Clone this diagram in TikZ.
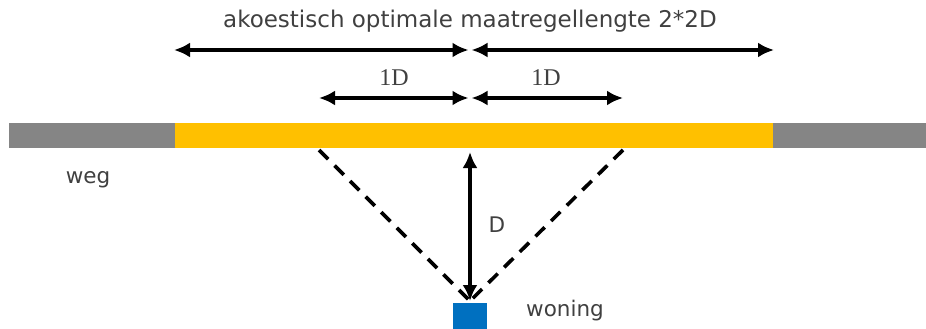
\documentclass[tikz,border=0pt]{standalone}
\usepackage{fontspec}
\setmainfont{DejaVu Sans}
\newfontfamily\dimfont{Liberation Serif}
\usetikzlibrary{arrows.meta}
\definecolor{roadgray}{HTML}{858585}
\definecolor{roadyellow}{HTML}{FFC000}
\definecolor{houseblue}{HTML}{0070C0}
\definecolor{txtgray}{HTML}{404040}
\begin{document}
\begin{tikzpicture}[x=1pt,y=-1pt,
  dimline/.style={line width=3.5pt,{Latex[length=16pt,width=15pt]}-{Latex[length=16pt,width=15pt]}},
  sightline/.style={line width=3.6pt,dash pattern=on 13pt off 9pt},
  lbl/.style={font=\fontsize{21.5}{24}\selectfont,text=txtgray,inner sep=0pt},
  dimlbl/.style={font=\dimfont\fontsize{24}{27}\selectfont,text=txtgray,inner sep=0pt}]
\useasboundingbox (0,0) rectangle (926,329);
% road
\fill[roadgray] (9,123) rectangle (175,148);
\fill[roadgray] (773,123) rectangle (926,148);
\fill[roadyellow] (175,123) rectangle (773,148);
% named points
\coordinate (tl) at (174,50);
\coordinate (tm) at (470,50);
\coordinate (tr) at (774,50);
\coordinate (ml) at (319,98);
\coordinate (mm) at (470,98);
\coordinate (mr) at (623,98);
\coordinate (rl) at (319,150);
\coordinate (rm) at (470,152);
\coordinate (rr) at (623,150);
% house
\node[fill=houseblue,minimum width=34pt,minimum height=28pt,inner sep=0pt,anchor=north] (house) at (470,303) {};
\coordinate (hv) at (470,301);
% texts
\node[lbl,font=\fontsize{23}{26}\selectfont] (title) at (470,21) {akoestisch optimale maatregellengte 2*2D};
\node[dimlbl] (d1) at (394,78) {1D};
\node[dimlbl] (d2) at (546,78) {1D};
\node[lbl] (weg) at (88,180) {weg};
\node[lbl] (D) at (497,225) {D};
\node[lbl] (woning) at (565,311) {woning};
% dimension arrows
\draw[dimline] (tl) -- ([xshift=-1.5pt]tm);
\draw[dimline] ([xshift=1.5pt]tm) -- (tr);
\draw[dimline] (ml) -- ([xshift=-1.5pt]mm);
\draw[dimline] ([xshift=1.5pt]mm) -- (mr);
% sight lines
\draw[sightline] (rl) -- (hv);
\draw[sightline] (rr) -- (hv);
\draw[dimline] (rm) -- (hv);
\end{tikzpicture}
\end{document}
